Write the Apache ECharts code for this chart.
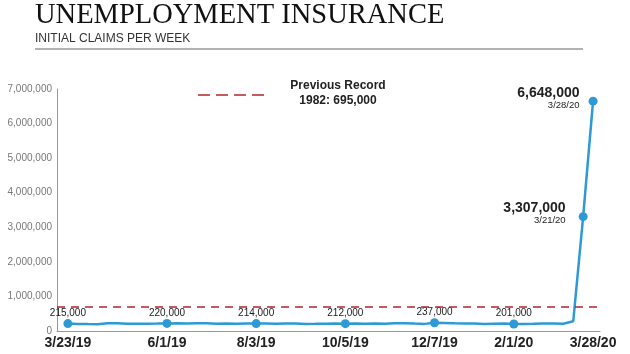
<!DOCTYPE html>
<html>
<head>
<meta charset="utf-8">
<script src="https://cdn.jsdelivr.net/npm/echarts@6/dist/echarts.min.js"></script>
<style>
html,body{margin:0;padding:0;background:#fff}
#chart{width:630px;height:354px}
</style>
</head>
<body>
<div id="chart"></div>
<script>
// weekly initial claims, week ending
var weeks = ['3/23/19','3/30/19','4/6/19','4/13/19','4/20/19','4/27/19','5/4/19','5/11/19','5/18/19','5/25/19',
  '6/1/19','6/8/19','6/15/19','6/22/19','6/29/19','7/6/19','7/13/19','7/20/19','7/27/19',
  '8/3/19','8/10/19','8/17/19','8/24/19','8/31/19','9/7/19','9/14/19','9/21/19','9/28/19',
  '10/5/19','10/12/19','10/19/19','10/26/19','11/2/19','11/9/19','11/16/19','11/23/19','11/30/19',
  '12/7/19','12/14/19','12/21/19','12/28/19','1/4/20','1/11/20','1/18/20','1/25/20',
  '2/1/20','2/8/20','2/15/20','2/22/20','2/29/20','3/7/20','3/14/20','3/21/20','3/28/20'];
var claims = [215000,204000,200000,198000,226000,224000,212000,212000,213000,215000,
  220000,222000,217000,224000,221000,212000,216000,208000,215000,
  214000,220000,211000,215000,217000,206000,208000,213000,218000,
  212000,214000,212000,218000,211000,222000,225000,214000,206000,
  237000,232000,222000,220000,214000,206000,211000,216000,
  201000,205000,210000,216000,214000,211000,282000,3307000,6648000];
var tickWeeks = [0,10,19,28,37,45,53];
var labelWeeks = [0,10,19,28,37,45];
var bigWeeks = [52,53];
var recordValue = 695000;

var blue = '#2d9ad6';
var red = '#b3262d';

function fmt(v){ return v.toLocaleString('en-US'); }

var seriesData = [];
for (var i = 0; i < claims.length; i++) {
  var item = { value: [i, claims[i]], symbol: 'none' };
  if (labelWeeks.indexOf(i) >= 0) {
    item.symbol = 'circle';
    item.label = {
      show: true, position: 'top', distance: 1,
      formatter: fmt(claims[i]),
      fontSize: 10, color: '#1a1a1a', fontFamily: 'Liberation Sans'
    };
  }
  if (bigWeeks.indexOf(i) >= 0) {
    item.symbol = 'circle';
    item.label = {
      show: true, position: 'left', distance: i == 53 ? 9 : 13, offset: [0, -3],
      align: 'right',
      formatter: '{a|' + fmt(claims[i]) + '}\n{b|' + weeks[i] + '}',
      rich: {
        a: { fontSize: 14, fontWeight: 'bold', color: '#222', fontFamily: 'Liberation Sans', align: 'right', lineHeight: 14 },
        b: { fontSize: 9.5, color: '#222', fontFamily: 'Liberation Sans', align: 'right', lineHeight: 11 }
      }
    };
  }
  seriesData.push(item);
}

var myChart = echarts.init(document.getElementById('chart'));
myChart.setOption({
  animation: false,
  grid: { left: 57, right: 30, top: 89, bottom: 23 },
  xAxis: {
    type: 'value',
    min: -1.1,
    max: 53.7,
    splitLine: { show: false },
    axisLine: { show: true, onZero: false, lineStyle: { color: '#999', width: 1 } },
    axisTick: { show: false },
    axisLabel: {
      customValues: tickWeeks,
      margin: 5,
      formatter: function (v) { return weeks[v]; },
      fontSize: 14, fontWeight: 'bold', color: '#222', fontFamily: 'Liberation Sans'
    }
  },
  yAxis: {
    type: 'value',
    min: 0,
    max: 7000000,
    interval: 1000000,
    splitLine: { show: false },
    axisLine: { show: true, onZero: false, lineStyle: { color: '#999', width: 1 } },
    axisTick: { show: false },
    axisLabel: {
      margin: 5,
      formatter: function (v) { return fmt(v); },
      fontSize: 10, color: '#777', fontFamily: 'Liberation Sans'
    }
  },
  graphic: [
    { type: 'text', left: 35, top: 1, style: { text: 'UNEMPLOYMENT INSURANCE', font: '28.5px "Liberation Serif"', fill: '#111' } },
    { type: 'text', left: 35, top: 33, style: { text: 'INITIAL CLAIMS PER WEEK', font: '12px "Liberation Sans"', fill: '#333' } },
    { type: 'line', shape: { x1: 35, y1: 49, x2: 583, y2: 49 }, style: { stroke: '#999', lineWidth: 1.5 } },
    { type: 'line', shape: { x1: 198, y1: 95, x2: 264, y2: 95 }, style: { stroke: red, lineWidth: 1.5, lineDash: [12, 6] } },
    { type: 'text', x: 338, y: 86, style: { text: 'Previous Record', font: 'bold 12px "Liberation Sans"', fill: '#222', align: 'center', verticalAlign: 'middle' } },
    { type: 'text', x: 338, y: 101, style: { text: '1982: 695,000', font: 'bold 12px "Liberation Sans"', fill: '#222', align: 'center', verticalAlign: 'middle' } }
  ],
  series: [{
    type: 'line',
    data: seriesData,
    symbolSize: 9,
    lineStyle: { color: blue, width: 2.5 },
    itemStyle: { color: blue },
    markLine: {
      silent: true,
      symbol: 'none',
      label: { show: false },
      lineStyle: { color: red, type: [8, 6], width: 1.5 },
      data: [{ yAxis: recordValue }]
    }
  }]
});
</script>
</body>
</html>
